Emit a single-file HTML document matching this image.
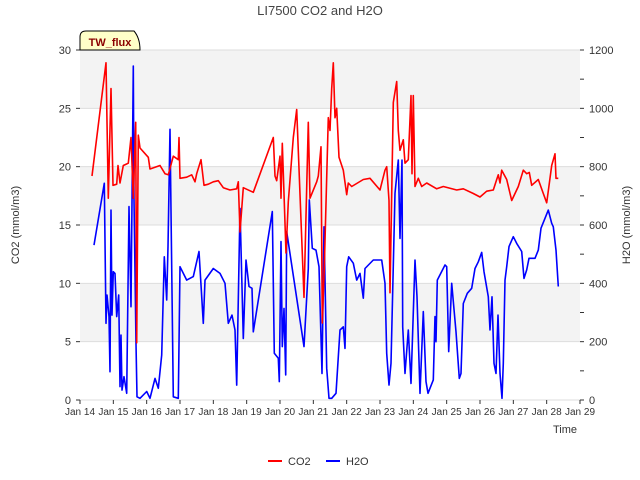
<!DOCTYPE html>
<html><head><meta charset="utf-8"><style>
body{margin:0;background:#fff;}
svg{display:block;font-family:"Liberation Sans","DejaVu Sans",sans-serif;}
</style></head><body>
<svg id="chart" width="640" height="480">
<rect x="80" y="50" width="500" height="350" fill="#fff"/>
<g id="bands"></g><g id="grid"></g>
<g id="series"></g><g id="axes"></g>
<text x="320" y="15" text-anchor="middle" font-size="13" fill="#444">LI7500 CO2 and H2O</text>
<text x="565" y="433" text-anchor="middle" font-size="11" fill="#333">Time</text>
<text transform="translate(19,225) rotate(-90)" text-anchor="middle" font-size="11" fill="#333">CO2 (mmol/m3)</text>
<text transform="translate(630,225) rotate(-90)" text-anchor="middle" font-size="11" fill="#333">H2O (mmol/m3)</text>
<g>
<path d="M80,50 L80,37 Q80,31 86,31 L134,31 Q140,38 140,50 Z" fill="#ffffc8" stroke="#000" stroke-width="1"/>
<text x="110" y="46" text-anchor="middle" font-size="11" font-weight="bold" fill="#8b0000">TW_flux</text>
</g>
<g>
<line x1="268" y1="461" x2="282" y2="461" stroke="#f00" stroke-width="2"/>
<text x="288" y="465" font-size="11" fill="#333">CO2</text>
<line x1="326" y1="461" x2="340" y2="461" stroke="#00f" stroke-width="2"/>
<text x="346" y="465" font-size="11" fill="#333">H2O</text>
</g>
</svg>
<script>
const xTickLabels=["Jan 14","Jan 15","Jan 16","Jan 17","Jan 18","Jan 19","Jan 20","Jan 21","Jan 22","Jan 23","Jan 24","Jan 25","Jan 26","Jan 27","Jan 28","Jan 29"];
const leftTicks=[0,5,10,15,20,25,30];
const rightTicks=[0,200,400,600,800,1000,1200];
const co2Days=[0.36,0.78,0.85,0.93,0.99,1.1,1.14,1.2,1.3,1.45,1.53,1.6,1.67,1.7,1.75,1.8,2.05,2.1,2.4,2.55,2.65,2.8,2.95,2.97,3.0,3.2,3.35,3.45,3.5,3.63,3.72,3.85,4.0,4.15,4.3,4.5,4.7,4.75,4.8,4.9,5.2,5.8,5.85,5.9,6.0,6.03,6.07,6.18,6.25,6.4,6.5,6.72,6.85,6.9,7.1,7.15,7.23,7.27,7.33,7.45,7.5,7.55,7.6,7.65,7.7,7.77,7.9,8.0,8.05,8.15,8.5,8.7,9.0,9.15,9.2,9.27,9.3,9.4,9.5,9.55,9.6,9.7,9.75,9.85,9.93,9.96,10.0,10.05,10.15,10.25,10.4,10.7,10.9,11.3,11.5,11.8,12.0,12.2,12.4,12.5,12.55,12.6,12.65,12.8,12.95,13.15,13.3,13.4,13.48,13.55,13.75,13.9,14.0,14.15,14.25,14.28,14.35];
const co2Values=[19.2,28.9,17.3,26.7,18.4,18.5,20.1,18.6,20.1,20.3,22.5,17.3,23.8,4.9,22.7,21.6,20.8,19.8,20.1,19.4,19.3,20.9,20.6,22.5,19.0,19.1,19.3,18.7,19.4,20.6,18.4,18.5,18.7,18.8,18.2,18.0,18.1,18.7,14.4,18.2,17.8,22.5,19.2,18.8,20.9,17.3,22.0,12.6,17.0,22.5,24.9,8.8,23.8,17.3,18.7,19.2,21.7,6.6,11.4,24.2,23.1,26.7,28.9,24.2,25.0,20.8,19.7,17.6,18.6,18.3,18.9,19.0,18.0,19.7,20.0,17.1,9.2,25.5,27.3,23.1,21.4,22.3,20.3,20.6,26.1,19.4,26.1,18.3,19.0,18.3,18.6,18.1,18.3,18.0,18.1,17.7,17.4,17.9,18.0,18.9,19.3,18.6,19.7,18.9,17.1,18.3,19.7,19.4,19.5,18.4,18.9,17.7,16.9,20.1,21.1,19.0,19.0];
const h2oDays=[0.42,0.73,0.78,0.81,0.87,0.9,0.93,0.96,1.0,1.05,1.1,1.16,1.2,1.23,1.26,1.32,1.4,1.47,1.53,1.6,1.62,1.68,1.71,1.8,2.0,2.1,2.25,2.35,2.45,2.53,2.6,2.64,2.7,2.8,2.95,3.0,3.2,3.4,3.57,3.7,3.75,4.0,4.2,4.35,4.45,4.56,4.65,4.7,4.8,4.9,4.98,5.07,5.16,5.2,5.77,5.83,5.95,5.98,6.03,6.07,6.12,6.17,6.2,6.72,6.85,6.88,6.97,7.08,7.17,7.26,7.32,7.4,7.47,7.55,7.68,7.8,7.9,7.95,8.0,8.06,8.2,8.3,8.4,8.5,8.55,8.8,9.05,9.15,9.2,9.27,9.33,9.45,9.55,9.6,9.66,9.68,9.75,9.85,9.93,10.05,10.11,10.2,10.3,10.38,10.44,10.6,10.65,10.68,10.72,10.95,11.0,11.06,11.15,11.28,11.38,11.43,11.5,11.62,11.75,11.85,11.95,12.05,12.12,12.25,12.3,12.36,12.42,12.48,12.54,12.6,12.66,12.7,12.75,12.8,12.87,13.0,13.1,13.25,13.32,13.4,13.47,13.65,13.75,13.83,13.95,14.05,14.15,14.2,14.28,14.35];
const h2oValues=[531,743,263,360,286,97,651,291,440,434,286,360,46,223,34,80,23,663,320,1145,686,194,11,6,29,6,74,40,154,491,343,526,928,11,6,457,411,423,509,263,411,451,434,400,263,291,240,51,657,211,480,389,383,234,646,160,143,63,543,183,314,86,577,183,451,686,520,514,457,91,594,109,6,6,23,240,251,177,457,491,469,411,434,349,451,480,480,400,160,51,126,709,823,554,823,251,91,240,57,480,354,23,303,63,23,69,286,200,411,463,457,166,400,234,74,91,331,366,383,451,474,506,440,354,240,354,126,91,291,91,6,126,411,457,526,560,537,509,417,446,486,486,514,589,623,651,606,594,514,389];

const X0=80,X1=580,Y0=400,Y1=50;
const xs=d=>X0+d*(X1-X0)/15;
const yL=v=>Y0-v*(Y0-Y1)/30;
const yR=v=>Y0-v*(Y0-Y1)/1200;
const NS="http://www.w3.org/2000/svg";
function mk(tag,attrs,parent){const e=document.createElementNS(NS,tag);for(const k in attrs)e.setAttribute(k,attrs[k]);document.getElementById(parent).appendChild(e);return e;}

[5,15,25].forEach(v=>{
 const b=mk('rect',{x:X0,y:yL(v+5),width:X1-X0,height:yL(v)-yL(v+5),fill:'#f3f3f3'},'bands');
 
 
});
leftTicks.forEach(v=>{
 const g=mk('line',{x1:X0,x2:X1,y1:yL(v),y2:yL(v),stroke:'#ddd','stroke-width':1},'grid');
 
 
});
function pts(days,vals,f){return days.map((d,i)=>xs(d).toFixed(1)+','+f(vals[i]).toFixed(1)).join(' ');}
const h=mk('polyline',{points:pts(h2oDays,h2oValues,yR),fill:'none',stroke:'#0000ff','stroke-width':1.6,'stroke-linejoin':'round'},'series');


const c=mk('polyline',{points:pts(co2Days,co2Values,yL),fill:'none',stroke:'#ff0000','stroke-width':1.6,'stroke-linejoin':'round'},'series');



leftTicks.forEach(v=>{
 mk('line',{x1:X0-4,x2:X0,y1:yL(v),y2:yL(v),stroke:'#333'},'axes');
 const t=mk('text',{x:X0-9,y:yL(v)+4,'text-anchor':'end','font-size':11,fill:'#333'},'axes');
 t.textContent=v;
 
 
});
for(let v=0;v<=1200;v+=100){
 mk('line',{x1:X1,x2:X1+4,y1:yR(v),y2:yR(v),stroke:'#333'},'axes');
}
rightTicks.forEach(v=>{
 const t=mk('text',{x:X1+9,y:yR(v)+4,'font-size':11,fill:'#333'},'axes');
 t.textContent=v;
 
 
});
xTickLabels.forEach((l,i)=>{
 mk('line',{x1:xs(i),x2:xs(i),y1:Y0,y2:Y0+4,stroke:'#333'},'axes');
 const t=mk('text',{x:xs(i),y:Y0+15,'text-anchor':'middle','font-size':10,fill:'#333'},'axes');
 t.textContent=l;
 
 
});
</script>
</body></html>
